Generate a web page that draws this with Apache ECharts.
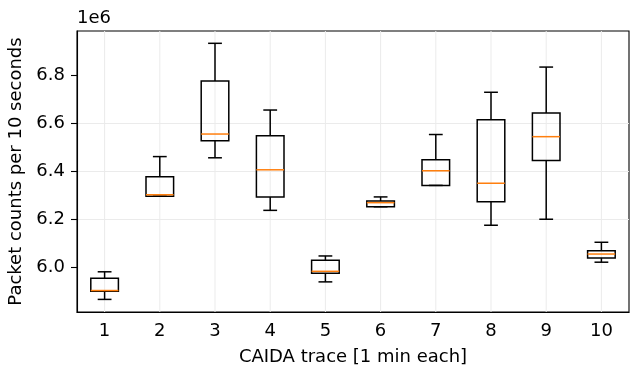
<!DOCTYPE html>
<html>
<head>
<meta charset="utf-8">
<script src="https://cdn.jsdelivr.net/npm/echarts@6/dist/echarts.min.js"></script>
<style>
  html, body { margin: 0; padding: 0; background: #fff; }
  #chart { width: 630px; height: 366px; }
</style>
</head>
<body>
<div id="chart"></div>
<script>
// packet counts per 10 s, in millions (axis scale 1e6)
var traces = ['1', '2', '3', '4', '5', '6', '7', '8', '9', '10'];
var whiskLo = [5.865, 6.295, 6.455, 6.236, 5.938, 6.251, 6.340, 6.174, 6.199, 6.020];
var q1      = [5.899, 6.295, 6.526, 6.292, 5.974, 6.251, 6.340, 6.272, 6.444, 6.038];
var median  = [5.902, 6.301, 6.554, 6.405, 5.982, 6.268, 6.401, 6.349, 6.543, 6.054];
var q3      = [5.953, 6.376, 6.775, 6.547, 6.028, 6.275, 6.447, 6.614, 6.642, 6.068];
var whiskHi = [5.980, 6.460, 6.932, 6.654, 6.046, 6.292, 6.552, 6.728, 6.833, 6.103];
var yTicks  = [6.0, 6.2, 6.4, 6.6, 6.8];

var FONT = 'DejaVu Sans';
var chart = echarts.init(document.getElementById('chart'), null, {renderer: 'canvas'});

var boxData = traces.map(function (t, i) {
    return [i, whiskLo[i], q1[i], median[i], q3[i], whiskHi[i]];
});

function renderBox(params, api) {
    var i = api.value(0);
    var lo = api.coord([i, api.value(1)]);
    var b1 = api.coord([i, api.value(2)]);
    var md = api.coord([i, api.value(3)]);
    var b3 = api.coord([i, api.value(4)]);
    var hi = api.coord([i, api.value(5)]);
    var band = api.size([1, 0])[0];
    var x = lo[0];
    var hw = band * 0.25;   // box half width (matplotlib widths=0.5)
    var cw = band * 0.125;  // cap half width
    var cs = params.coordSys;
    var black = {stroke: '#000', lineWidth: 1.5, fill: null};
    return {
        type: 'group',
        children: [
            // vertical grid line at the category centre
            {type: 'line', shape: {x1: x, y1: cs.y, x2: x, y2: cs.y + cs.height},
             style: {stroke: '#ebebeb', lineWidth: 1}, z2: 0},
            {type: 'line', shape: {x1: x, y1: b1[1], x2: x, y2: lo[1]}, style: black, z2: 5},
            {type: 'line', shape: {x1: x, y1: b3[1], x2: x, y2: hi[1]}, style: black, z2: 5},
            {type: 'line', shape: {x1: x - cw, y1: lo[1], x2: x + cw, y2: lo[1]}, style: black, z2: 5},
            {type: 'line', shape: {x1: x - cw, y1: hi[1], x2: x + cw, y2: hi[1]}, style: black, z2: 5},
            {type: 'rect', shape: {x: x - hw, y: b3[1], width: hw * 2, height: b1[1] - b3[1]},
             style: black, z2: 5},
            {type: 'line', shape: {x1: x - hw, y1: md[1], x2: x + hw, y2: md[1]},
             style: {stroke: '#ff7f0e', lineWidth: 1.5}, z2: 6}
        ]
    };
}

var option = {
    backgroundColor: '#fff',
    animation: false,
    textStyle: {fontFamily: FONT},
    graphic: [{
        type: 'text', left: 77, top: 9,
        style: {text: '1e6', fontSize: 18, fontFamily: FONT, fill: '#000'}
    }],
    grid: {
        left: 77, right: 1, top: 31, bottom: 54,
        show: true, borderColor: '#000', borderWidth: 1.1,
        outerBoundsMode: 'none'
    },
    xAxis: {
        type: 'category',
        data: traces,
        boundaryGap: true,
        name: 'CAIDA trace [1 min each]',
        nameLocation: 'middle',
        nameGap: 36,
        nameTextStyle: {fontSize: 18, color: '#000', fontFamily: FONT},
        axisLine: {lineStyle: {color: '#000', width: 1.1}},
        axisTick: {alignWithLabel: true, length: 6, lineStyle: {color: '#000', width: 1.1}},
        axisLabel: {fontSize: 18, color: '#000', margin: 10, fontFamily: FONT},
        splitLine: {show: false}
    },
    yAxis: {
        type: 'value',
        min: 5.8125,
        max: 6.9833,
        name: 'Packet counts per 10 seconds',
        nameLocation: 'middle',
        nameGap: 49,
        nameTextStyle: {fontSize: 18, color: '#000', fontFamily: FONT},
        axisLine: {show: true, lineStyle: {color: '#000', width: 1.1}},
        axisTick: {show: true, length: 6, customValues: yTicks, lineStyle: {color: '#000', width: 1.1}},
        axisLabel: {
            fontSize: 18, color: '#000', margin: 12, fontFamily: FONT,
            customValues: yTicks,
            formatter: function (v) { return v.toFixed(1); }
        },
        splitLine: {show: true, showMinLine: false, showMaxLine: false,
                    lineStyle: {color: '#ebebeb', width: 1}}
    },
    series: [{
        type: 'custom',
        renderItem: renderBox,
        data: boxData,
        encode: {x: 0, y: [1, 2, 3, 4, 5]},
        clip: false
    }]
};
chart.setOption(option);
</script>
</body>
</html>
